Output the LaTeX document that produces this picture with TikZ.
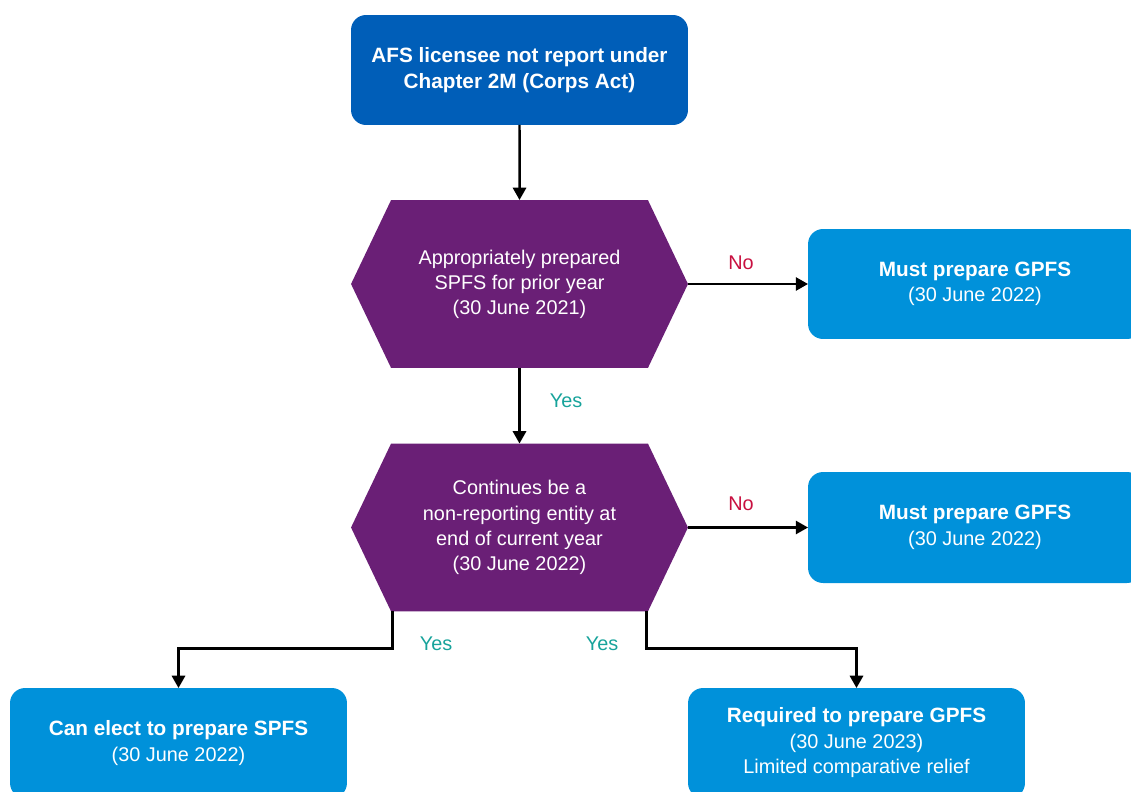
\documentclass[tikz,border=0pt]{standalone}
\usepackage{fontspec}
\setmainfont{Liberation Sans}
\usetikzlibrary{arrows.meta, shapes.symbols}
\definecolor{afsnavy}{RGB}{0,94,184}
\definecolor{afspurp}{RGB}{106,31,118}
\definecolor{afssky}{RGB}{0,145,218}
\definecolor{nored}{RGB}{200,16,64}
\definecolor{yesteal}{RGB}{23,163,155}
\newcommand{\hd}[1]{{\bfseries\fontsize{11.8}{14.5}\selectfont #1}}

\begin{document}
\begin{tikzpicture}[x=0.02cm, y=-0.02cm,
    box/.style={rounded corners=0.3cm, minimum width=6.74cm, minimum height=2.2cm,
      text=white, align=center, inner sep=0pt, outer sep=0pt,
      font=\fontsize{11.3}{14.5}\selectfont},
    quest/.style={signal, signal to=east and west, signal pointer angle=129,
      fill=afspurp, minimum width=6.74cm, minimum height=3.36cm,
      text=white, align=center, inner sep=0pt, outer sep=0pt,
      font=\fontsize{11.3}{14.3}\selectfont},
    flow/.style={line width=1.4pt, -{Triangle[length=7pt,width=7.5pt]}},
    lbl/.style={font=\fontsize{11.3}{13}\selectfont}]
  \path[use as bounding box] (0,0) rectangle (1131,791);
  \clip (0,0) rectangle (1131,791);

  % start
  \node[box, fill=afsnavy] (afs) at (519.5,70)
    {\hd{AFS licensee not report under}\\\hd{Chapter 2M (Corps Act)}};

  % questions
  \node[quest] (prior) at (519.5,284)
    {Appropriately prepared\\SPFS for prior year\\(30 June 2021)};
  \node[quest] (cont) at (519.5,527.5)
    {Continues be a\\non-reporting entity at\\end of current year\\(30 June 2022)};

  % outcomes
  \node[box, fill=afssky, minimum width=6.68cm] (gpfsa) at (975,284)
    {\hd{Must prepare GPFS}\\(30 June 2022)};
  \node[box, fill=afssky, minimum width=6.68cm, minimum height=2.22cm] (gpfsb) at (975,527.5)
    {\hd{Must prepare GPFS}\\(30 June 2022)};
  \node[box, fill=afssky] (elect) at (178.5,743)
    {\hd{Can elect to prepare SPFS}\\(30 June 2022)};
  \node[box, fill=afssky] (req) at (856.5,743)
    {\hd{Required to prepare GPFS}\\(30 June 2023)\\Limited comparative relief};

  % connectors
  \draw[flow] (afs) -- (prior);
  \draw[flow] (prior.east) -- (gpfsa.west);
  \draw[flow] (prior.south) -- (cont.north);
  \draw[flow] (cont.east) -- (gpfsb.west);
  \draw[flow] ([xshift=-2.54cm]cont.south) -- ++(0,37) -| (elect.north);
  \draw[flow] ([xshift=2.54cm]cont.south) -- ++(0,37) -| (req.north);

  % labels
  \node[lbl, text=nored] (noa) at (741,263) {No};
  \node[lbl, text=nored] (nob) at (741,504) {No};
  \node[lbl, text=yesteal] (yesa) at (566,401) {Yes};
  \node[lbl, text=yesteal] (yesb) at (436,644) {Yes};
  \node[lbl, text=yesteal] (yesc) at (602,644) {Yes};
\end{tikzpicture}
\end{document}
